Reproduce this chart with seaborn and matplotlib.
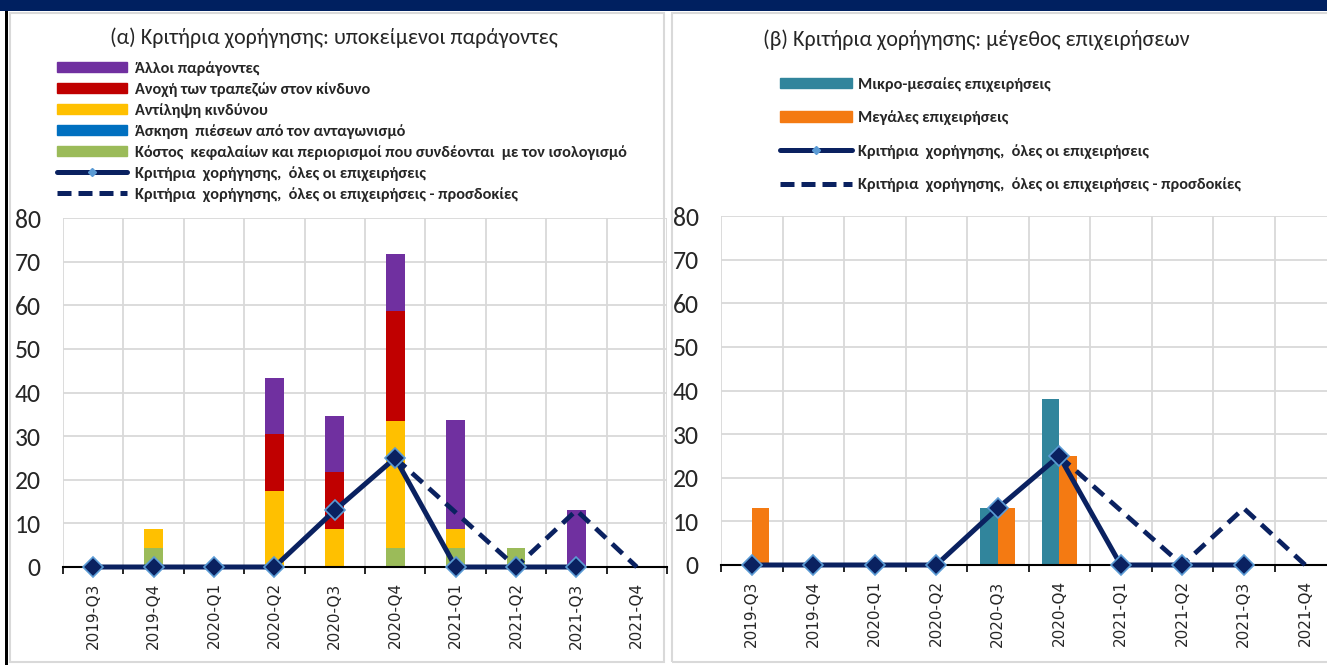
import numpy as np
import pandas as pd
import matplotlib
matplotlib.use("Agg")
import matplotlib.pyplot as plt
import seaborn as sns
from matplotlib.patches import Patch, Rectangle
from matplotlib.lines import Line2D

# ---------------- data ----------------
quarters = ['2019-Q3', '2019-Q4', '2020-Q1', '2020-Q2', '2020-Q3',
            '2020-Q4', '2021-Q1', '2021-Q2', '2021-Q3', '2021-Q4']

# panel (a): underlying factors (stack from bottom: cost, competition, risk perception, risk tolerance, other)
cost_of_funds = [0, 4.35, 0, 0, 0, 4.35, 4.35, 4.35, 0, 0]
competition = [0, 0, 0, 0, 0, 0, 0, 0, 0, 0]
risk_perception = [0, 4.35, 0, 17.4, 8.7, 29.1, 4.35, 0, 0, 0]
risk_tolerance = [0, 0, 0, 13.0, 13.0, 25.2, 0, 0, 0, 0]
other_factors = [0, 0, 0, 13.0, 13.0, 13.0, 24.9, 0, 13.0, 0]

# credit standards, all firms (actual & expected)
standards_actual = [0, 0, 0, 0, 13, 25, 0, 0, 0, np.nan]
standards_expected = [np.nan, np.nan, np.nan, np.nan, np.nan, 25, 12.5, 0, 13, 0]

# panel (b): firm size
sme = [0, 0, 0, 0, 13, 38, 0, 0, 0, 0]
large = [13, 0, 0, 0, 13, 25, 0, 0, 0, 0]

labels_a = ['Άλλοι παράγοντες',
            'Ανοχή των τραπεζών στον κίνδυνο',
            'Αντίληψη κινδύνου',
            'Άσκηση  πιέσεων από τον ανταγωνισμό',
            'Κόστος  κεφαλαίων και περιορισμοί που συνδέονται  με τον ισολογισμό']
labels_b = ['Μικρο-μεσαίες επιχειρήσεις', 'Μεγάλες επιχειρήσεις']
label_line = 'Κριτήρια  χορήγησης,  όλες οι επιχειρήσεις'
label_dash = 'Κριτήρια  χορήγησης,  όλες οι επιχειρήσεις - προσδοκίες'
title_a = '(α) Κριτήρια χορήγησης: υποκείμενοι παράγοντες'
title_b = '(β) Κριτήρια χορήγησης: μέγεθος επιχειρήσεων'

# ---------------- style ----------------
sns.set_style("white")
plt.rcParams['font.family'] = ['Carlito', 'Lato', 'DejaVu Sans']

PURPLE = '#7030A0'
RED = '#C00000'
YELLOW = '#FFC000'
BLUE = '#0070C0'
GREEN = '#9BBB59'
TEAL = '#31859C'
ORANGE = '#F47A12'
NAVY = '#0A2160'
EDGE = '#5B9BD5'
GRID = '#D9D9D9'

W, H = 1327, 665
fig = plt.figure(figsize=(W / 100, H / 100), dpi=100)
fig.patch.set_facecolor('white')

# frame decorations
fig.add_artist(Rectangle((0, 1 - 11 / H), 1, 11 / H, transform=fig.transFigure,
                         facecolor='#002060', edgecolor='none', zorder=0))
fig.add_artist(Rectangle((5 / W, 0), 3 / W, 1 - 11 / H, transform=fig.transFigure,
                         facecolor='black', edgecolor='none', zorder=0))
fig.add_artist(Rectangle((10 / W, 1 - 662 / H), 654 / W, 649 / H, transform=fig.transFigure,
                         facecolor='none', edgecolor=GRID, lw=1.5, zorder=0))
fig.add_artist(Rectangle((672 / W, 1 - 662 / H), 700 / W, 649 / H, transform=fig.transFigure,
                         facecolor='none', edgecolor=GRID, lw=1.5, zorder=0))

ax1 = fig.add_axes([63 / W, 1 - 567 / H, (667 - 63) / W, (567 - 218) / H])
ax2 = fig.add_axes([721 / W, 1 - 565 / H, (1336 - 721) / W, (565 - 216) / H])

# ---------------- panel (a): stacked bars via cumulative overdraw ----------------
layers = [cost_of_funds, competition, risk_perception, risk_tolerance, other_factors]
colors_stack = [GREEN, BLUE, YELLOW, RED, PURPLE]
cums = np.cumsum(np.array(layers, dtype=float), axis=0)
for cum, col in reversed(list(zip(cums, colors_stack))):
    sns.barplot(x=quarters, y=cum, color=col, width=0.31, saturation=1,
                linewidth=0, ax=ax1, zorder=2)

xpos = np.arange(len(quarters))


def draw_lines(ax):
    sns.lineplot(x=xpos, y=standards_expected, ax=ax, color=NAVY, linewidth=3.4,
                 linestyle=(0, (3, 1.8)), legend=False, zorder=6, clip_on=False)
    sns.lineplot(x=xpos, y=standards_actual, ax=ax, color=NAVY, linewidth=3.6,
                 marker='D', markersize=10, markerfacecolor=NAVY,
                 markeredgecolor=EDGE, markeredgewidth=1.2, legend=False,
                 zorder=7, clip_on=False)


draw_lines(ax1)

# ---------------- panel (b): grouped bars ----------------
df_b = pd.DataFrame({
    'q': quarters * 2,
    'v': sme + large,
    'g': [labels_b[0]] * len(quarters) + [labels_b[1]] * len(quarters),
})
sns.barplot(data=df_b, x='q', y='v', hue='g', palette=[TEAL, ORANGE],
            width=0.57, saturation=1, linewidth=0, ax=ax2, legend=False, zorder=2)
draw_lines(ax2)

# ---------------- axes formatting ----------------
for ax in (ax1, ax2):
    ax.set_xlim(-0.5, 9.5)
    ax.set_ylim(0, 80)
    ax.set_yticks(np.arange(0, 81, 10))
    ax.set_xticks(xpos)
    ax.set_xticklabels(quarters, family='DejaVu Sans')
    ax.set_xticks(np.arange(-0.5, 10, 1), minor=True)
    ax.set_xlabel('')
    ax.set_ylabel('')
    ax.grid(which='minor', axis='x', color=GRID, lw=1.3, zorder=0)
    ax.grid(which='major', axis='y', color=GRID, lw=1.3, zorder=0)
    ax.grid(which='major', axis='x', visible=False)
    ax.set_axisbelow(True)
    for s in ('left', 'right', 'top'):
        ax.spines[s].set_visible(False)
    ax.spines['bottom'].set_color('black')
    ax.spines['bottom'].set_linewidth(1.5)
    ax.spines['bottom'].set_zorder(5)
    ax.tick_params(axis='x', which='major', length=0, labelrotation=90,
                   labelsize=11, pad=11)
    ax.tick_params(axis='x', which='minor', length=5, width=1.2, color='black',
                   direction='out', bottom=True)
    ax.tick_params(axis='y', length=0, labelsize=18.5, pad=16)
    ax.patch.set_alpha(0)

# ---------------- titles ----------------
fig.text(334 / W, 1 - 38 / H, title_a, ha='center', va='center', fontsize=15.8)
fig.text(976 / W, 1 - 40 / H, title_b, ha='center', va='center', fontsize=15.8)

# ---------------- legends ----------------
line_handle = Line2D([], [], color=NAVY, lw=3.6, marker='D', markersize=4,
                     markerfacecolor=EDGE, markeredgecolor=EDGE)
dash_handle = Line2D([], [], color=NAVY, lw=3.6, linestyle=(0, (2.8, 1.4)))

legend_prop = {'family': ['Carlito', 'Lato', 'DejaVu Sans'],
               'weight': 'bold', 'size': 11.7}

handles_a = [Patch(color=c) for c in [PURPLE, RED, YELLOW, BLUE, GREEN]] + [line_handle, dash_handle]
fig.legend(handles_a, labels_a + [label_line, label_dash], loc='upper left',
           bbox_to_anchor=(57 / W, 1 - 61 / H), frameon=False, borderpad=0,
           borderaxespad=0, handlelength=4.3, handleheight=0.62, handletextpad=0.5,
           labelspacing=0.38, prop=legend_prop)

handles_b = [Patch(color=TEAL), Patch(color=ORANGE), line_handle, dash_handle]
fig.legend(handles_b, labels_b + [label_line, label_dash], loc='upper left',
           bbox_to_anchor=(780 / W, 1 - 77 / H), frameon=False, borderpad=0,
           borderaxespad=0, handlelength=4.45, handleheight=0.62, handletextpad=0.37,
           labelspacing=1.15, prop=legend_prop)

fig.savefig('out.png', dpi=100)
